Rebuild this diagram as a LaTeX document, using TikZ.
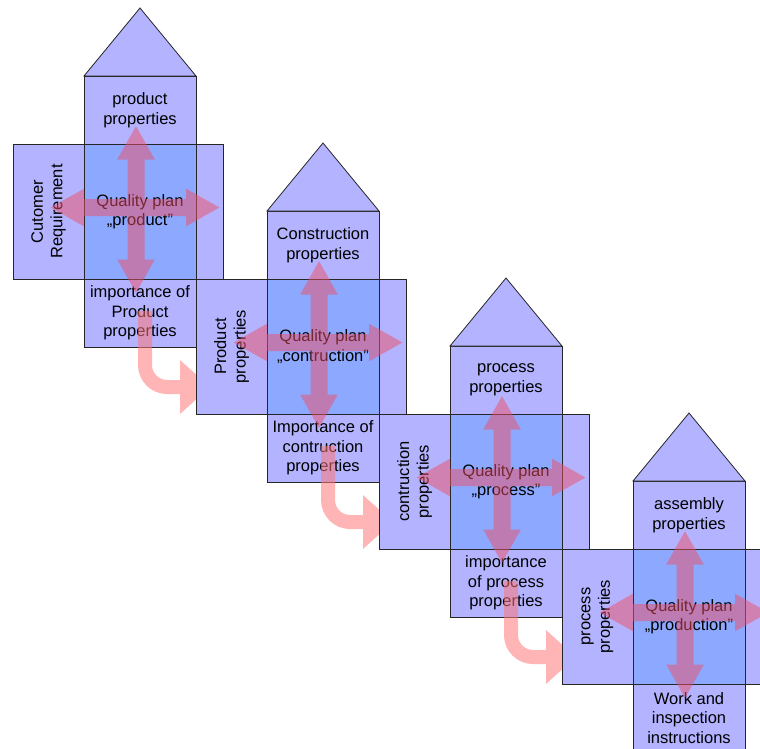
\documentclass[tikz,border=0pt]{standalone}
\usepackage{fontspec}
\setmainfont{Liberation Sans}
\usetikzlibrary{ arrows.meta, % For the broad arrow tips
                 positioning, % For easy node-relative placements
               }
\definecolor{lavender}{RGB}{179,179,255}
\definecolor{coreblue}{RGB}{140,168,255}
\definecolor{crossred}{RGB}{240,80,100}
\definecolor{flowpink}{RGB}{255,120,120}
\tikzstyle{box} = [rectangle, draw=black!85, line width=0.8pt, fill=lavender, inner sep=0pt, outer sep=0pt, align=center, font=\fontsize{16.5}{19.5}\selectfont]
\tikzstyle{corebox} = [box, fill=coreblue, minimum width=112pt, minimum height=135pt]
\tikzstyle{topbox} = [box, minimum width=112pt, minimum height=68pt]
\tikzstyle{sidebox} = [box, minimum width=71pt, minimum height=135pt]
\tikzstyle{wingbox} = [box, minimum width=27pt, minimum height=135pt]
\tikzstyle{roof} = [draw=black!85, line width=0.8pt, fill=lavender]
\tikzstyle{sidetext} = [rotate=90, align=center, font=\fontsize{16.5}{19.5}\selectfont]
\tikzstyle{crossarrow} = [crossred, line width=17pt, {Triangle[width=35pt,length=34pt]}-{Triangle[width=35pt,length=34pt]}]
\tikzstyle{flowarrow} = [flowpink, line width=14pt, -{Triangle[width=52pt,length=30pt]}, rounded corners=22pt]

\begin{document}
\begin{tikzpicture}[x=1pt, y=-1pt]
  \useasboundingbox (0,0) rectangle (760,749);
  \clip (0,0) rectangle (760,749);
  \foreach \i/\captext/\sidetxt/\plan/\imptext in {
      0/{product\\properties}/{Cutomer\\Requirement}/{product}/{importance of\\Product\\properties},
      1/{Construction\\properties}/{Product\\properties}/{contruction}/{Importance of\\contruction\\properties},
      2/{process\\properties}/{contruction\\properties}/{process}/{importance\\of process\\properties},
      3/{assembly\\properties}/{process\\properties}/{production}/{Work and\\inspection\\instructions}} {
    \node (core\i) [corebox] at (140+183*\i, 211.5+135*\i) {};
    \node (side\i) [sidebox, left=0pt of core\i] {};
    \node (wing\i) [wingbox, right=0pt of core\i] {};
    \node (top\i) [topbox, above=0pt of core\i] {\captext};
    \node (bot\i) [topbox, below=0pt of core\i] {\imptext};
    \node (core\i) [corebox] at (core\i) {Quality plan\\„\plan"};
    \node (label\i) [sidetext] at (side\i) {\sidetxt};
    \draw [roof] (top\i.north west) -- (top\i.north east) -- ([yshift=68pt]top\i.north) -- cycle;

    % the four-way arrow over the plan
    \coordinate (up\i) at ([xshift=-4pt, yshift=86pt]core\i.center);
    \coordinate (down\i) at ([xshift=-4pt, yshift=-82pt]core\i.center);
    \coordinate (west\i) at ([xshift=-90pt, yshift=4pt]core\i.center);
    \coordinate (east\i) at ([xshift=80pt, yshift=4pt]core\i.center);
    \begin{scope}[transparency group, opacity=0.5]
      \draw [crossarrow] (up\i) -- (down\i);
      \draw [crossarrow] (west\i) -- (east\i);
    \end{scope}

    % hand-over to the next house
    \ifnum\i<3
      \coordinate (from\i) at ([xshift=5pt, yshift=2pt]bot\i.center);
      \coordinate (to\i) at ([xshift=70pt, yshift=-74pt]bot\i.center);
      \begin{scope}[transparency group, opacity=0.55]
        \draw [flowarrow] (from\i) |- (to\i);
      \end{scope}
    \fi
  }
\end{tikzpicture}
\end{document}
